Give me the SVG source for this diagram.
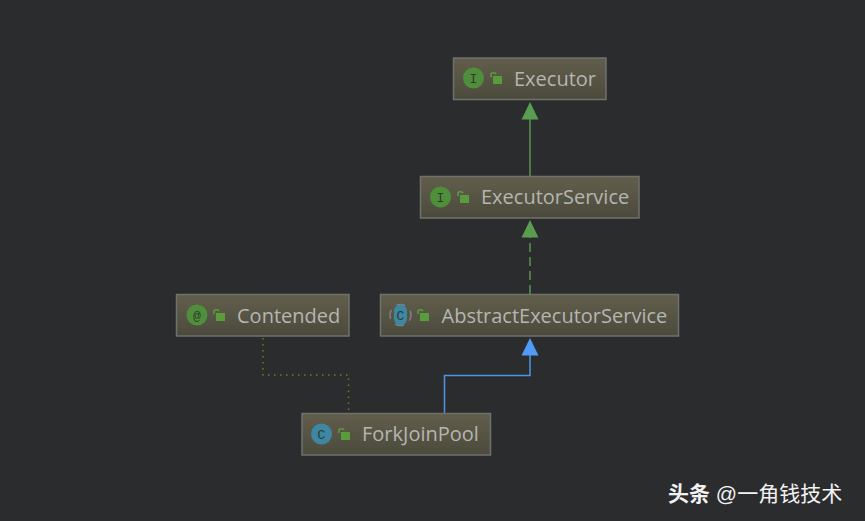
<svg xmlns="http://www.w3.org/2000/svg" width="865" height="521" viewBox="0 0 865 521">
<style>
.box{fill:url(#nodeFill);stroke:#6f726c;stroke-width:1.5}
.base{fill:none;stroke:#7a7d78;stroke-width:1.5}
.label{font-family:"Open Sans","DejaVu Sans",sans-serif;font-size:20px;fill:#b4b6b2}
.glyph{font-family:"Liberation Mono",monospace;font-size:13px;fill:#2f3a2c;text-anchor:middle}
.lock{fill:#5a9c3c}
.shackle{fill:none;stroke:#5a9c3c;stroke-width:1.6}
</style>
<defs>
<linearGradient id="nodeFill" x1="0" y1="0" x2="0" y2="1"><stop offset="0" stop-color="#625e4c"/><stop offset="1" stop-color="#4b4a3c"/></linearGradient>
<g id="lock"><path class="shackle" d="M1 5V2.2Q1 .8 3.4 .8T5.8 2.2"/><rect class="lock" x="3" y="4" width="9" height="8"/></g>
</defs>
<rect width="865" height="521" fill="#2b2c2e"/>
<g id="connectors" fill="none">
<path d="M530 176V117" stroke="#5a9450" stroke-width="1.5"/>
<path d="M530 102l-8.500 17.500h17z" fill="#5a9c50"/>
<path d="M530 294V236" stroke="#5a9450" stroke-width="1.500" stroke-dasharray="9 5"/>
<path d="M530 220l-8.500 17.500h17z" fill="#5a9c50"/>
<path d="M444.500 413V375.500H530V354" stroke="#4f94e8" stroke-width="1.500"/>
<path d="M530 338l-8.500 17.500h17z" fill="#4f9bf5"/>
<path d="M263 338V375H348.500V411" stroke="#777a10" stroke-width="1.500" stroke-dasharray="1.500 4.500"/>
</g>
<g id="executor">
<rect class="box" x="453.500" y="58" width="152.500" height="41.500"/>
<circle cx="473.500" cy="78" r="10.500" fill="#4f8f3c"/><text class="glyph" x="473.500" y="82.500">I</text>
<use href="#lock" x="490" y="72"/>
<text class="label" x="514" y="85.500">Executor</text>
</g>
<g id="executor-service">
<rect class="box" x="420.500" y="176.500" width="218.500" height="41.500"/>
<circle cx="440.500" cy="197" r="10.500" fill="#4f8f3c"/><text class="glyph" x="440.500" y="201.500">I</text>
<use href="#lock" x="457" y="191"/>
<text class="label" x="481" y="204">ExecutorService</text>
</g>
<g id="contended">
<rect class="box" x="176.500" y="294.500" width="172.500" height="41.500"/>
<circle cx="197" cy="315" r="10.500" fill="#4f8f3c"/><text class="glyph" x="197" y="319.500">@</text>
<use href="#lock" x="213" y="309"/>
<text class="label" x="237" y="322.500">Contended</text>
</g>
<g id="abstract-executor-service">
<rect class="box" x="380.500" y="294.500" width="298" height="41.500"/>
<circle cx="400.500" cy="315" r="10.500" fill="none" stroke="#7d8386" stroke-width="1.500" stroke-dasharray="9 7" stroke-dashoffset="3"/>
<rect x="394" y="304.500" width="13" height="21" rx="6.500" fill="#3d87a3"/>
<text class="glyph" x="400.500" y="319.500">C</text>
<use href="#lock" x="417" y="309"/>
<text class="label" x="441.500" y="322.500">AbstractExecutorService</text>
</g>
<g id="fork-join-pool">
<rect class="box" x="302" y="413.500" width="188.500" height="41.500"/>
<circle cx="321.500" cy="434" r="10.500" fill="#3d87a3"/><text class="glyph" x="321.500" y="438.500">C</text>
<use href="#lock" x="338" y="428"/>
<text class="label" x="362" y="441">ForkJoinPool</text>
</g>
<text x="668" y="501" font-family="'Liberation Sans','Noto Sans CJK SC',sans-serif" font-size="21" fill="#f2f2f2"><tspan font-weight="700">头条</tspan> @一角钱技术</text>
</svg>
